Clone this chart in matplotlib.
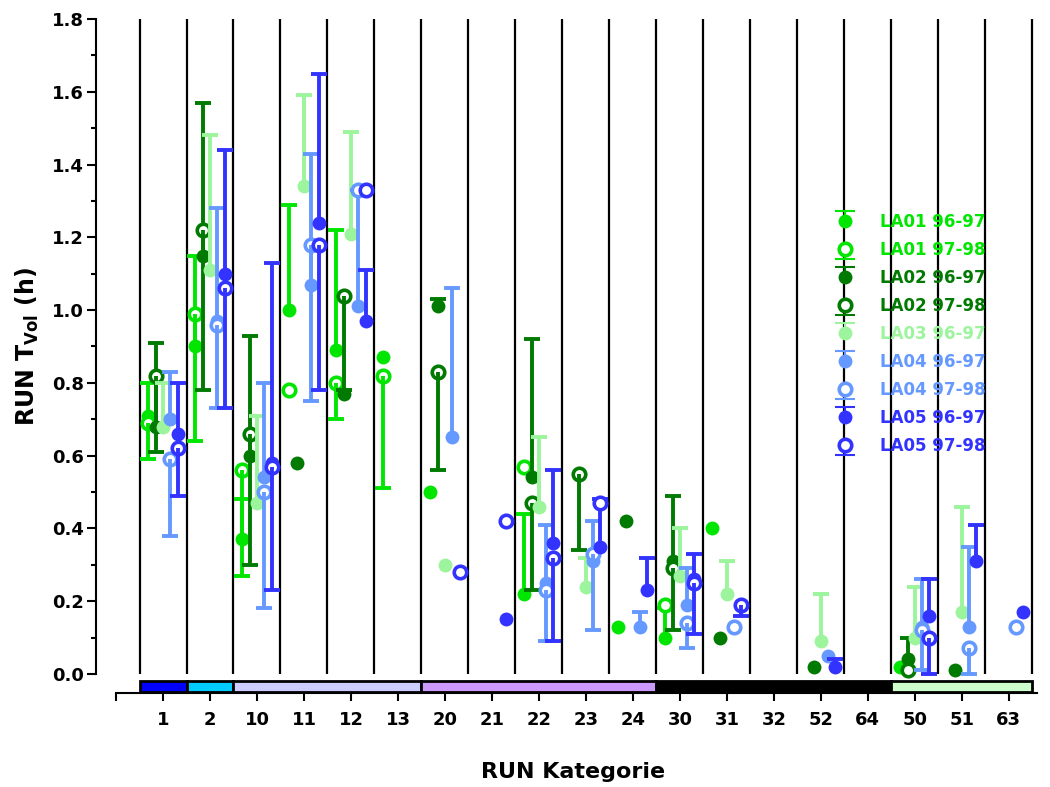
import numpy as np
import matplotlib
matplotlib.use("Agg")
import matplotlib.pyplot as plt
from matplotlib.patches import Rectangle
from matplotlib.path import Path
from matplotlib.lines import Line2D

plt.rcParams['font.family'] = ['DejaVu Sans']
plt.rcParams['font.weight'] = 'bold'
plt.rcParams['mathtext.fontset'] = 'dejavusans'

n = np.nan

categories = ['1', '2', '10', '11', '12', '13', '20', '21', '22', '23', '24',
              '30', '31', '32', '52', '64', '50', '51', '63']

# category groups shown as coloured band under the axis: (first index, last index, colour)
band_groups = [(0, 0, '#0000FF'), (1, 1, '#00CCFF'), (2, 5, '#CCCCFF'),
               (6, 10, '#CC99FF'), (11, 15, '#000000'), (16, 18, '#CCFFCC')]

# site colours and horizontal offsets within a category
site_colors = {'LA01': '#00E600', 'LA02': '#007A00', 'LA03': '#9CF59C',
               'LA04': '#6699FF', 'LA05': '#3333FF'}
site_offsets = {'LA01': -0.31, 'LA02': -0.155, 'LA03': 0.0, 'LA04': 0.155, 'LA05': 0.31}

# mean values (h) and error (upward for 96-97, downward for 97-98)
la01_9697 = [0.71, 0.90, 0.37, 1.00, 0.89, 0.87, 0.50, n, 0.22, n, 0.13, 0.10, 0.40, n, n, n, 0.02, n, n]
la01_9697_err = [0.09, 0.25, 0.11, 0.29, 0.33, n, n, n, 0.22, n, n, 0.08, n, n, n, n, n, n, n]
la01_9798 = [0.69, 0.99, 0.56, 0.78, 0.80, 0.82, n, n, 0.57, n, n, 0.19, n, n, n, n, n, n, n]
la01_9798_err = [0.10, 0.35, 0.29, n, 0.10, 0.31, n, n, n, n, n, n, n, n, n, n, n, n, n]

la02_9697 = [0.68, 1.15, 0.60, 0.58, 0.77, n, 1.01, n, 0.54, n, 0.42, 0.31, 0.10, n, 0.02, n, 0.04, 0.01, n]
la02_9697_err = [0.23, 0.42, 0.33, n, n, n, 0.02, n, 0.38, n, n, 0.18, n, n, n, n, 0.06, n, n]
la02_9798 = [0.82, 1.22, 0.66, n, 1.04, n, 0.83, n, 0.47, 0.55, n, 0.29, n, n, n, n, 0.01, n, n]
la02_9798_err = [0.21, 0.44, 0.36, n, 0.26, n, 0.27, n, 0.24, 0.21, n, 0.17, n, n, n, n, n, n, n]

la03_9697 = [0.68, 1.11, 0.47, 1.34, 1.21, n, 0.30, n, 0.46, 0.24, n, 0.27, 0.22, n, 0.09, n, 0.10, 0.17, n]
la03_9697_err = [0.12, 0.37, 0.24, 0.25, 0.28, n, n, n, 0.19, 0.08, n, 0.13, 0.09, n, 0.13, n, 0.14, 0.29, n]

la04_9697 = [0.70, 0.97, 0.54, 1.07, 1.01, n, 0.65, n, 0.25, 0.31, 0.13, 0.19, n, n, 0.05, n, 0.13, 0.13, n]
la04_9697_err = [0.13, 0.31, 0.26, 0.36, 0.32, n, 0.41, n, 0.16, 0.11, 0.04, 0.10, n, n, n, n, 0.13, 0.22, n]
la04_9798 = [0.59, 0.96, 0.50, 1.18, 1.33, n, n, n, 0.23, 0.33, n, 0.14, 0.13, n, n, n, 0.12, 0.07, 0.13]
la04_9798_err = [0.21, 0.23, 0.32, 0.43, n, n, n, n, 0.14, 0.21, n, 0.07, n, n, n, n, 0.11, 0.07, n]

la05_9697 = [0.66, 1.10, 0.58, 1.24, 0.97, n, n, 0.15, 0.36, 0.35, 0.23, 0.26, n, n, 0.02, n, 0.16, 0.31, 0.17]
la05_9697_err = [0.14, 0.34, 0.55, 0.41, 0.14, n, n, n, 0.20, 0.13, 0.09, 0.07, n, n, 0.02, n, 0.10, 0.10, n]
la05_9798 = [0.62, 1.06, 0.57, 1.18, 1.33, n, 0.28, 0.42, 0.32, 0.47, n, 0.25, 0.19, n, n, n, 0.10, n, n]
la05_9798_err = [0.13, 0.33, 0.34, 0.40, n, n, n, n, 0.23, n, n, 0.14, 0.03, n, n, n, 0.10, n, n]

series = [
    ('LA01', '96-97', la01_9697, la01_9697_err),
    ('LA01', '97-98', la01_9798, la01_9798_err),
    ('LA02', '96-97', la02_9697, la02_9697_err),
    ('LA02', '97-98', la02_9798, la02_9798_err),
    ('LA03', '96-97', la03_9697, la03_9697_err),
    ('LA04', '96-97', la04_9697, la04_9697_err),
    ('LA04', '97-98', la04_9798, la04_9798_err),
    ('LA05', '96-97', la05_9697, la05_9697_err),
    ('LA05', '97-98', la05_9798, la05_9798_err),
]

W, H = 1050, 787
fig = plt.figure(figsize=(W / 100, H / 100), dpi=100)
ax = fig.add_axes([96 / W, 1 - 695.8 / H, (1037 - 96) / W, (695.8 - 19) / H])
ax.set_xlim(-1.426, 18.6)
ax.set_ylim(-0.06, 1.8)

idx = np.arange(len(categories))

# category separators
ax.vlines(np.arange(-0.5, len(categories)), 0, 1.8, color='black', lw=1.6, zorder=1)

# coloured category band
for first, last, col in band_groups:
    ax.add_patch(Rectangle((first - 0.5, -0.0495), last - first + 1, 0.031,
                           facecolor=col, edgecolor='black', lw=2.0,
                           clip_on=False, zorder=2))

legend_handles = []
legend_labels = []
cap_up = Path([(0, 0), (0, 0.95), (-1, 0.95), (1, 0.95)],
              [Path.MOVETO, Path.LINETO, Path.MOVETO, Path.LINETO])
cap_down = Path([(0, 0), (0, -0.95), (-1, -0.95), (1, -0.95)],
                [Path.MOVETO, Path.LINETO, Path.MOVETO, Path.LINETO])

for k, (site, season, vals, errs) in enumerate(series):
    col = site_colors[site]
    x = idx + site_offsets[site]
    v = np.array(vals, dtype=float)
    e = np.array(errs, dtype=float)
    is_open = season == '97-98'
    zbase = 3 + 0.1 * k
    if is_open:
        ax.plot(x, v, 'o', ms=9, mfc='white', mec=col, mew=2.6, ls='none', zorder=zbase)
    else:
        ax.plot(x, v, 'o', ms=10, mfc=col, mec=col, mew=0, ls='none', zorder=zbase)
    m = np.isfinite(e) & np.isfinite(v)
    if m.any():
        zeros = np.zeros(m.sum())
        yerr = [e[m], zeros] if is_open else [zeros, e[m]]
        cont = ax.errorbar(x[m], v[m], yerr=yerr, fmt='none', ecolor=col,
                           elinewidth=2.8, capsize=5.5, capthick=2.8, zorder=zbase + 0.05)
        low_caps, high_caps = cont[1]
        (high_caps if is_open else low_caps).set_visible(False)
    cap = Line2D([], [], marker=cap_down if is_open else cap_up, ms=15, mew=1.5,
                 mec=col, mfc='none', ls='none')
    if is_open:
        dot = Line2D([], [], marker='o', ms=9, mfc='white', mec=col, mew=2.6, ls='none')
    else:
        dot = Line2D([], [], marker='o', ms=10, mfc=col, mec=col, mew=0, ls='none')
    legend_handles.append((cap, dot))
    legend_labels.append(f'{site} {season}')

# axes styling
for s in ('top', 'right'):
    ax.spines[s].set_visible(False)
ax.spines['left'].set_bounds(0, 1.8)
ax.spines['left'].set_linewidth(1.5)
ax.spines['bottom'].set_position(('data', -0.052))
ax.spines['bottom'].set_bounds(-1, 18.6)
ax.spines['bottom'].set_linewidth(1.5)

ax.set_yticks(np.arange(0, 1.81, 0.2))
ax.set_yticks(np.arange(0.1, 1.8, 0.2), minor=True)
ax.set_yticklabels([f'{t:.1f}' for t in np.arange(0, 1.81, 0.2)], fontsize=13, fontweight='bold')
ax.tick_params(axis='y', which='major', length=6.5, width=1.5, pad=2)
ax.tick_params(axis='y', which='minor', length=3.6, width=1.5)

ax.set_xticks(np.arange(-1, len(categories)))
ax.set_xticklabels([''] + categories, fontsize=13, fontweight='bold')
ax.tick_params(axis='x', which='major', length=5.8, width=1.5, pad=7)

fig.text(27 / W, 1 - 347 / H, r'RUN T$_{\mathbf{Vol}}$ (h)', rotation=90,
         ha='center', va='center', fontsize=17, fontweight='bold')
fig.text(573 / W, 1 - 772 / H, 'RUN Kategorie', ha='center', va='center',
         fontsize=16, fontweight='bold')

leg = ax.legend(legend_handles, legend_labels, loc='upper left',
                bbox_to_anchor=(834 / W, 1 - 213 / H), bbox_transform=fig.transFigure,
                frameon=False, borderpad=0, borderaxespad=0, handlelength=1.3,
                handletextpad=1.46, labelspacing=0.6,
                prop={'weight': 'bold', 'size': 12})
for txt, (site, season, _, _) in zip(leg.get_texts(), series):
    txt.set_color(site_colors[site])

fig.savefig('out.png', dpi=100)
